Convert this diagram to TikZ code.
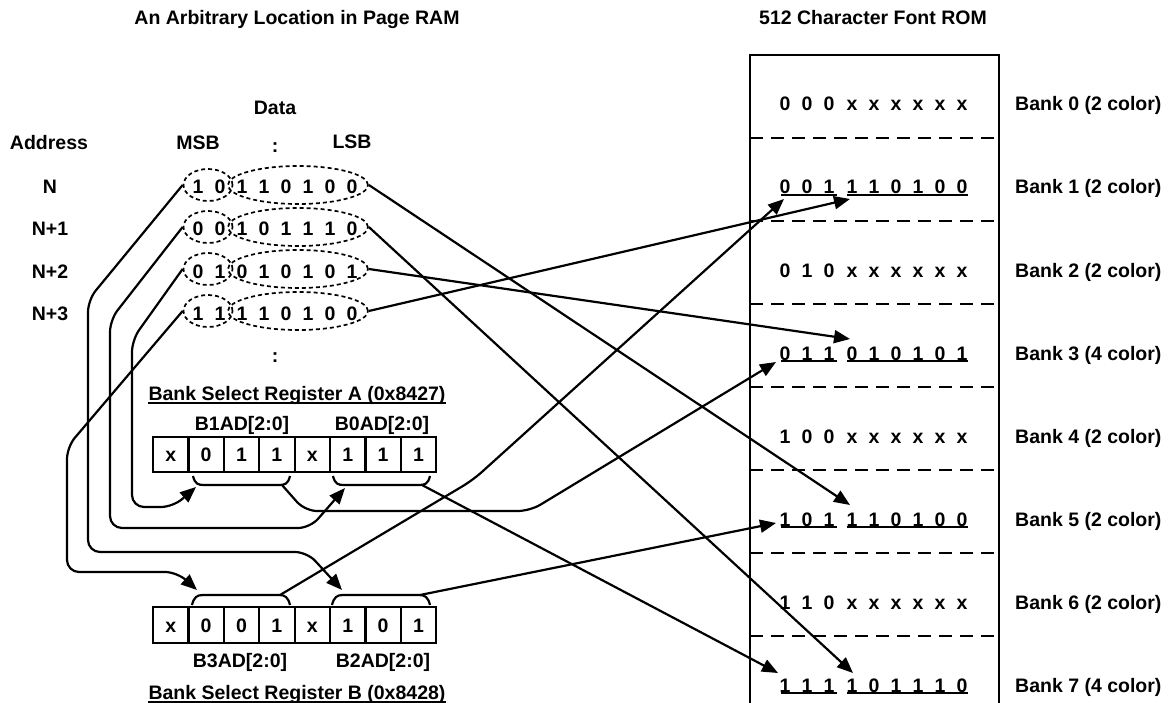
\documentclass[tikz,border=0pt]{standalone}
\usepackage{fontspec}
\setmainfont{Liberation Sans}
\usetikzlibrary{arrows.meta,shapes.geometric}

\tikzset{
  lbl/.style={font=\bfseries\fontsize{19.5}{22}\selectfont, inner sep=0pt,
    text height=14pt, text depth=0pt},
  ring/.style={draw, ellipse, inner sep=0pt, line width=1.7pt,
    dash pattern=on 4pt off 3pt},
  cell/.style={lbl, draw, line width=2.2pt, minimum width=35.4pt,
    minimum height=35.5pt},
  brace/.style={line width=2.2pt},
  wire/.style={line width=2.2pt, rounded corners=12pt},
  feed/.style={wire, -{Triangle[length=16pt,width=13pt]}},
  sep/.style={line width=2.4pt, dash pattern=on 13pt off 8pt},
  uline/.style={line width=2pt},
}

\begin{document}
\begin{tikzpicture}[x=1pt,y=-1pt]
\useasboundingbox (0,0) rectangle (1174,703);

% titles
\node[lbl] (ramtitle) at (297,18) {An Arbitrary Location in Page RAM};
\node[lbl] (romtitle) at (873,18) {512 Character Font ROM};

% page RAM
\node[lbl] (data) at (275,108) {Data};
\node[lbl] (addr) at (49,143) {Address};
\node[lbl] (msb) at (198,143) {MSB};
\node[lbl] (colon) at (275,146) {:};
\node[lbl] (lsb) at (352,142) {LSB};
\node[lbl] (dots) at (275,355) {:};
\foreach \i/\a/\bits in {0/N/{1,0,1,1,0,1,0,0}, 1/N+1/{0,0,1,0,1,1,1,0},
    2/N+2/{0,1,0,1,0,1,0,1}, 3/N+3/{1,1,1,1,0,1,0,0}}{
  \node[lbl] (a\i) at (50,187+42*\i) {\a};
  \foreach \b [count=\k] in \bits
    \node[lbl] (d\i\k) at (176+22*\k,187+42*\i) {\b};
  \node[ring, minimum width=49pt, minimum height=32pt] (m\i) at (208,185+42*\i) {};
  \node[ring, minimum width=140pt, minimum height=38pt] (l\i) at (298,185+42*\i) {};
}

% font ROM
\draw[line width=2.6pt] (750,703) -- (750,55) -- (999,55) -- (999,703);
\foreach \k in {0,...,6}
  \draw[sep] (750,138+83*\k) -- (999,138+83*\k);
\foreach \k/\bits/\c in {0/{0,0,0,x,x,x,x,x,x}/2, 1/{0,0,1,1,1,0,1,0,0}/2,
    2/{0,1,0,x,x,x,x,x,x}/2, 3/{0,1,1,0,1,0,1,0,1}/4, 4/{1,0,0,x,x,x,x,x,x}/2,
    5/{1,0,1,1,1,0,1,0,0}/2, 6/{1,1,0,x,x,x,x,x,x}/2, 7/{1,1,1,1,0,1,1,1,0}/4}{
  \node[lbl, anchor=west] (bank\k) at (1015,104+83*\k) {Bank \k\ (\c\ color)};
  \foreach \b [count=\j] in \bits
    \node[lbl] (r\k\j) at ({763+22*\j+(\j>3)},104+83*\k) {\b};
}
\foreach \k in {1,3,5,7}{
  \draw[uline] (781,112+83*\k) -- (837,112+83*\k);
  \draw[uline] (847,112+83*\k) -- (968,112+83*\k);
}
\coordinate (t1a) at (784,199); \coordinate (t1b) at (850,199);
\coordinate (t3a) at (776,362); \coordinate (t3b) at (850,339);
\coordinate (t5a) at (776,523); \coordinate (t5b) at (850,505);
\coordinate (t7a) at (778,673); \coordinate (t7b) at (853,673);

% bank select register A
\node[lbl] (rega) at (297,393) {Bank Select Register A (0x8427)};
\draw[uline] ([yshift=-3pt]rega.south west) -- ([yshift=-3pt]rega.south east);
\node[lbl] (b1ad) at (242,423) {B1AD[2:0]};
\node[lbl] (b0ad) at (382,423) {B0AD[2:0]};
\foreach \v [count=\j] in {x,0,1,1,x,1,1,1}
  \node[cell] (ra\j) at ({135.3+35.4*\j},454.5) {\v};
\draw[brace] (193,476) .. controls (195,484) and (198,485) .. (204,485)
  -- (279,485) .. controls (285,485) and (288,484) .. (290,476);
\draw[brace] (333,476) .. controls (335,484) and (338,485) .. (344,485)
  -- (419,485) .. controls (425,485) and (428,484) .. (430,476);
\coordinate (a1in) at (196,487); \coordinate (a1out) at (282,485);
\coordinate (a0in) at (345,488); \coordinate (a0out) at (422,485);

% bank select register B
\node[lbl] (b3ad) at (240,660) {B3AD[2:0]};
\node[lbl] (b2ad) at (383,660) {B2AD[2:0]};
\node[lbl] (regb) at (297,692) {Bank Select Register B (0x8428)};
\draw[uline] ([yshift=-3pt]regb.south west) -- ([yshift=-3pt]regb.south east);
\foreach \v [count=\j] in {x,0,0,1,x,1,0,1}
  \node[cell] (rb\j) at ({135.3+35.4*\j},625) {\v};
\draw[brace] (192,605) .. controls (194,597) and (197,595) .. (203,595)
  -- (279,595) .. controls (285,595) and (288,597) .. (290,605);
\draw[brace] (332,605) .. controls (334,597) and (337,595) .. (343,595)
  -- (419,595) .. controls (425,595) and (428,597) .. (430,605);
\coordinate (b3in) at (197,590); \coordinate (b3out) at (280,595);
\coordinate (b2in) at (342,590); \coordinate (b2out) at (420,595);

% MSB fields pick a bank select field
\draw[feed] (m0.west) -- (88,300) -- (88,552) -- (307,552) -- (b2in);
\draw[feed] (m1.west) -- (110,320) -- (110,528) -- (310,528) -- (a0in);
\draw[feed] (m2.west) -- (132,340) -- (132,507) -- (173,507) -- (a1in);
\draw[feed] (m3.west) -- (67,447) -- (67,572) -- (177,572) -- (b3in);

% LSB fields into the ROM address
\draw[feed] (l0.east) -- (t5b);
\draw[feed] (l1.east) -- (t7b);
\draw[feed] (l2.east) -- (t3b);
\draw[feed] (l3.east) -- (t1b);

% bank select fields into the ROM address
\draw[feed] (a1out) -- (305,511) -- (530,511) -- (t3a);
\draw[feed] (a0out) -- (t7a);
\draw[feed] (b3out) -- (473,480) -- (t1a);
\draw[feed] (b2out) -- (t5a);
\end{tikzpicture}
\end{document}
